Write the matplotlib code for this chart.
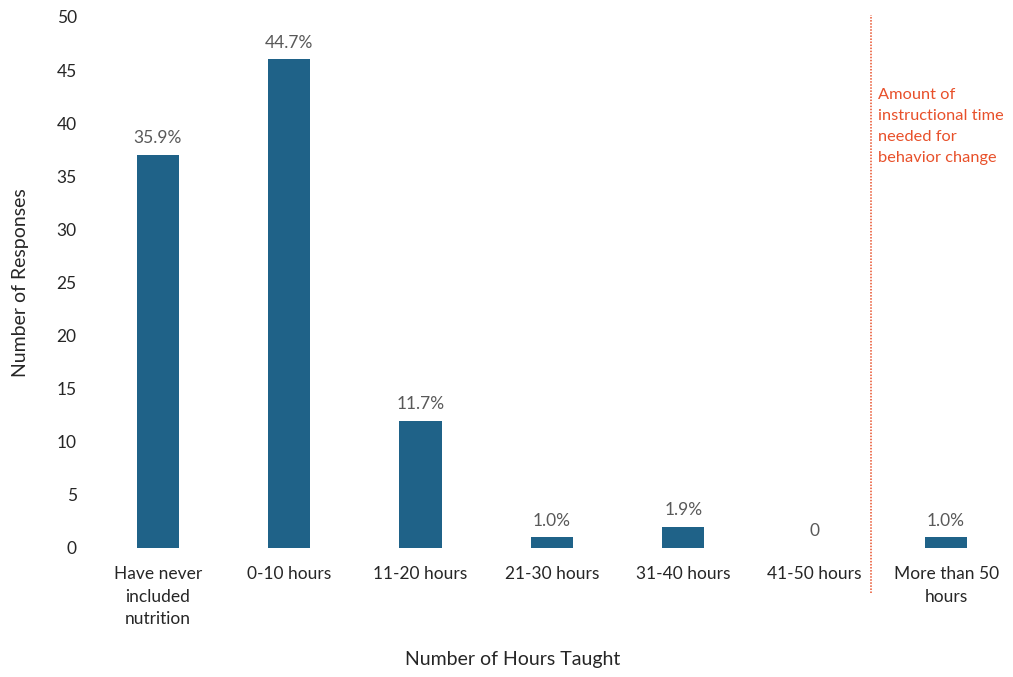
import matplotlib
matplotlib.use("Agg")
import matplotlib.pyplot as plt

categories = ["Have never\nincluded\nnutrition", "0-10 hours", "11-20 hours", "21-30 hours",
              "31-40 hours", "41-50 hours", "More than 50\nhours"]
responses = [37, 46, 12, 1, 2, 0, 1]
pct_labels = ["35.9%", "44.7%", "11.7%", "1.0%", "1.9%", "0", "1.0%"]
yticks = [0, 5, 10, 15, 20, 25, 30, 35, 40, 45, 50]
threshold_pos = 5.43
note = "Amount of\ninstructional time\nneeded for\nbehavior change"

plt.rcParams['font.family'] = ['Lato', 'DejaVu Sans']

fig = plt.figure(figsize=(10.13, 6.77), dpi=100)
ax = fig.add_axes([0.0908, 0.1906, 0.908, 0.7844])

x = range(len(categories))
bars = ax.bar(x, responses, width=0.32, color="#1f6288")

# percentage labels above each bar
for i, b in enumerate(bars):
    ax.text(b.get_x() + b.get_width() / 2, responses[i] + 0.8, pct_labels[i],
            ha="center", va="bottom", fontsize=12.5, color="#595959")

ax.set_xlim(-0.5, len(categories) - 0.5)
ax.set_ylim(0, 50)
ax.set_yticks(yticks)
ax.set_xticks(list(x))
ax.set_xticklabels(categories, fontsize=12.5, color="#262626", linespacing=1.5)
ax.tick_params(axis="y", labelsize=12.5, labelcolor="#262626", length=0, pad=11)
ax.tick_params(axis="x", length=0, pad=13)
for s in ax.spines.values():
    s.set_visible(False)

# dotted threshold line
ax.plot([threshold_pos, threshold_pos], [-4.2, 50.2], ls=(0, (1, 1)), lw=1.1,
        color="#e8502a", clip_on=False)
ax.text(threshold_pos + 0.05, 43.3, note, fontsize=11.8, color="#e8502a",
        ha="left", va="top", linespacing=1.62)

ax.set_ylabel("Number of Responses", fontsize=14, color="#262626")
ax.set_xlabel("Number of Hours Taught", fontsize=14, color="#262626")
ax.yaxis.set_label_coords(-0.068, 0.5)
ax.xaxis.set_label_coords(0.457, -0.194)

fig.savefig("out.png", dpi=100)
